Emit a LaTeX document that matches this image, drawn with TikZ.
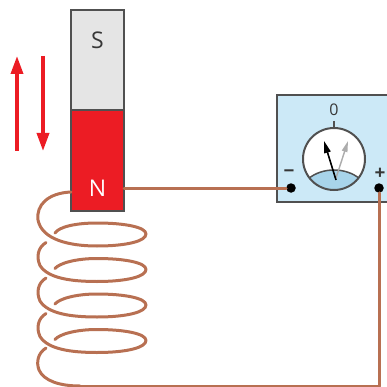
\documentclass[tikz,border=0pt]{standalone}
\usepackage{fontspec}
\setmainfont{Open Sans}
\usetikzlibrary{arrows.meta,calc}
\definecolor{wirebrown}{RGB}{184,112,82}
\definecolor{polered}{RGB}{236,28,36}
\definecolor{polegray}{RGB}{229,229,229}
\definecolor{edgegray}{RGB}{80,80,80}
\definecolor{meterblue}{RGB}{204,233,247}
\definecolor{lensblue}{RGB}{168,212,234}
\definecolor{textgray}{RGB}{55,55,55}
\tikzset{
  wire/.style={draw=wirebrown, line width=3pt, line cap=round, line join=round},
  pole/.style={draw=edgegray, line width=1.6pt, inner sep=0pt, outer sep=0pt,
               minimum width=53pt, anchor=north west},
  motion/.style={draw=polered, line width=3.4pt,
                 -{Triangle[length=18pt,width=12pt]}},
  terminal/.style={circle, fill=black, inner sep=0pt, minimum size=9.5pt},
  sign/.style={text=textgray, font=\bfseries\fontsize{19}{19}\selectfont, inner sep=0pt},
}
\begin{document}
\begin{tikzpicture}[x=1pt,y=-1pt]
\useasboundingbox (0,0) rectangle (386,387);

% meter housing and dial
\node[draw=edgegray, fill=meterblue, line width=2pt, inner sep=0pt,
      minimum width=115pt, minimum height=107pt, anchor=north west] (meter) at (276,94) {};
\node[circle, fill=white, inner sep=0pt, minimum size=62pt] (dial) at (334,159) {};
\begin{scope}
  \clip (dial.center) circle[radius=31];
  \fill[lensblue] (308,179) .. controls (322,167) and (346,167) .. (360,179)
    -- (360,200) -- (308,200) -- cycle;
  \draw[edgegray, line width=1.5pt] (308,179) .. controls (322,167) and (346,167) .. (360,179);
\end{scope}
\draw[edgegray, line width=2pt] (dial.center) circle[radius=31];
\draw[edgegray, line width=1.6pt] (334,121) -- (dial.north);
\node[text=textgray, font=\fontsize{16}{16}\selectfont, inner sep=0pt] (zero) at (334,110) {0};
\draw[gray!65, line width=1.4pt, -{Triangle[length=11pt,width=5.5pt]}] (336,178) -- (348,141);
\draw[black, line width=1.6pt, -{Triangle[length=12pt,width=6.5pt]}] (336,180) -- (324,141);

% terminals
\node[terminal] (minus) at (291,188) {};
\node[terminal] (plus) at (379,188) {};
\node[sign] (minuslabel) at (289,174) {−};
\node[sign] (pluslabel) at (380,174) {+};

% bar magnet
\node[pole, fill=polegray, minimum height=100pt] (spole) at (71,10) {};
\node[pole, fill=polered, minimum height=101pt] (npole) at (71,110) {};
\node[text=textgray, font=\fontsize{23}{23}\selectfont, inner sep=0pt] (slabel) at (97.5,40) {S};
\node[text=white, font=\fontsize{23}{23}\selectfont, inner sep=0pt] (nlabel) at (97.5,188) {N};

% motion arrows
\coordinate (upfrom) at (17,151);
\coordinate (upto) at (17,56);
\coordinate (downfrom) at (43,56);
\coordinate (downto) at (43,151);
\draw[motion] (upfrom) -- (upto);
\draw[motion] (downfrom) -- (downto);

% wire from the magnet to the minus terminal
\draw[wire] (npole.east |- minus) -- (minus);

% coil
\coordinate (coiltop) at (71,192);
\coordinate (coilbottom) at (80,386);
\draw[wire] (coiltop) .. controls (48,193) and (36,205) .. (38,220)
  .. controls (42,240) and (70,246) .. (97,246)
  .. controls (127,246) and (146,241) .. (146,234)
  .. controls (146,227) and (124,223) .. (97,223)
  .. controls (75,223) and (59,227) .. (55,233);
\foreach \c in {269.5,305,340.5}{
  \draw[wire] (46,\c-27) .. controls (38,\c-22) and (36,\c-13) .. (40,\c-4)
    .. controls (48,\c+9) and (72,\c+12) .. (97,\c+12)
    .. controls (127,\c+12) and (146,\c+7) .. (146,\c)
    .. controls (146,\c-7) and (124,\c-11) .. (97,\c-11)
    .. controls (75,\c-11) and (59,\c-6) .. (55,\c-1);
}
\draw[wire] (46,348) .. controls (38,353) and (36,362) .. (39,370)
  .. controls (44,381) and (60,386) .. (coilbottom);

% return wire from the plus terminal
\draw[wire] (plus) |- (coilbottom);
\end{tikzpicture}
\end{document}
